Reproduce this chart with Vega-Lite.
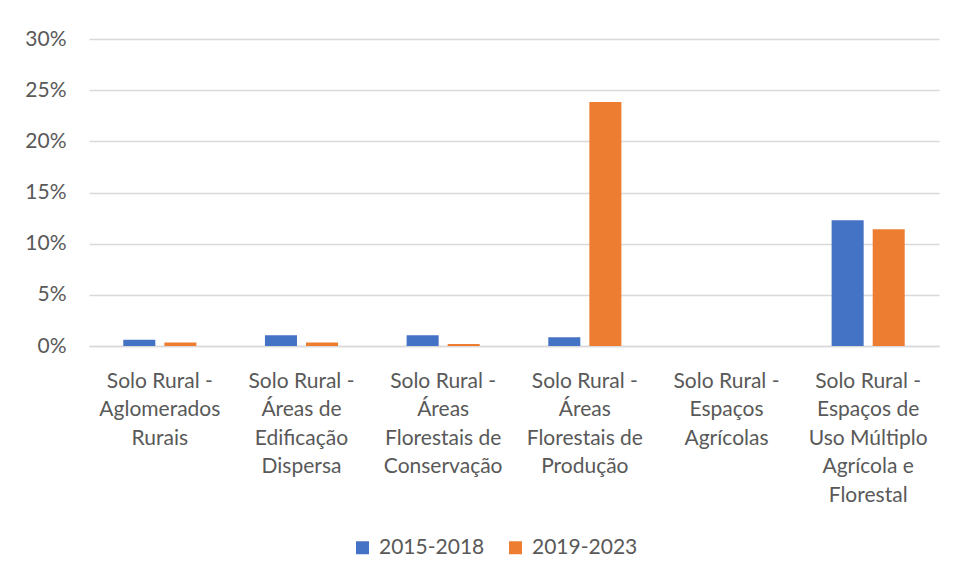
{
  "$schema": "https://vega.github.io/schema/vega-lite/v6.json",
  "width": 850,
  "height": 307,
  "autosize": "none",
  "padding": {"left": 89, "top": 39, "right": 17, "bottom": 235},
  "background": "white",
  "data": {
    "values": [
      {"categoria": "Solo Rural - Aglomerados Rurais", "periodo": "2015-2018", "valor": 0.006},
      {"categoria": "Solo Rural - Aglomerados Rurais", "periodo": "2019-2023", "valor": 0.0035},
      {"categoria": "Solo Rural - Áreas de Edificação Dispersa", "periodo": "2015-2018", "valor": 0.0105},
      {"categoria": "Solo Rural - Áreas de Edificação Dispersa", "periodo": "2019-2023", "valor": 0.0035},
      {"categoria": "Solo Rural - Áreas Florestais de Conservação", "periodo": "2015-2018", "valor": 0.0105},
      {"categoria": "Solo Rural - Áreas Florestais de Conservação", "periodo": "2019-2023", "valor": 0.002},
      {"categoria": "Solo Rural - Áreas Florestais de Produção", "periodo": "2015-2018", "valor": 0.0085},
      {"categoria": "Solo Rural - Áreas Florestais de Produção", "periodo": "2019-2023", "valor": 0.2385},
      {"categoria": "Solo Rural - Espaços Agrícolas", "periodo": "2015-2018", "valor": 0},
      {"categoria": "Solo Rural - Espaços Agrícolas", "periodo": "2019-2023", "valor": 0},
      {"categoria": "Solo Rural - Espaços de Uso Múltiplo Agrícola e Florestal", "periodo": "2015-2018", "valor": 0.123},
      {"categoria": "Solo Rural - Espaços de Uso Múltiplo Agrícola e Florestal", "periodo": "2019-2023", "valor": 0.114}
    ]
  },
  "mark": {"type": "bar"},
  "encoding": {
    "x": {
      "field": "categoria",
      "type": "nominal",
      "sort": null,
      "scale": {"paddingInner": 0, "paddingOuter": 0},
      "axis": {
        "title": null,
        "labelAngle": 0,
        "labelFont": "Lato",
        "labelFontSize": 21,
        "labelColor": "#595959",
        "labelLineHeight": 28.5,
        "labelPadding": 24,
        "labelBaseline": "top",
        "labelLimit": 0,
        "ticks": false,
        "domainColor": "#D9D9D9",
        "domainWidth": 1.5,
        "grid": false,
        "labelExpr": "{'Solo Rural - Aglomerados Rurais': ['Solo Rural -', 'Aglomerados', 'Rurais'], 'Solo Rural - Áreas de Edificação Dispersa': ['Solo Rural -', 'Áreas de', 'Edificação', 'Dispersa'], 'Solo Rural - Áreas Florestais de Conservação': ['Solo Rural -', 'Áreas', 'Florestais de', 'Conservação'], 'Solo Rural - Áreas Florestais de Produção': ['Solo Rural -', 'Áreas', 'Florestais de', 'Produção'], 'Solo Rural - Espaços Agrícolas': ['Solo Rural -', 'Espaços', 'Agrícolas'], 'Solo Rural - Espaços de Uso Múltiplo Agrícola e Florestal': ['Solo Rural -', 'Espaços de', 'Uso Múltiplo', 'Agrícola e', 'Florestal']}[datum.value]"
      }
    },
    "xOffset": {
      "field": "periodo",
      "type": "nominal",
      "scale": {"paddingInner": 0.22, "paddingOuter": 0.835}
    },
    "y": {
      "field": "valor",
      "type": "quantitative",
      "scale": {"domain": [0, 0.3]},
      "axis": {
        "title": null,
        "format": ".0%",
        "values": [0, 0.05, 0.1, 0.15, 0.2, 0.25, 0.3],
        "labelFont": "Lato",
        "labelFontSize": 21,
        "labelColor": "#595959",
        "labelPadding": 23,
        "ticks": false,
        "domain": false,
        "gridColor": "#D9D9D9",
        "gridWidth": 1.5
      }
    },
    "color": {
      "field": "periodo",
      "type": "nominal",
      "scale": {"domain": ["2015-2018", "2019-2023"], "range": ["#4472C4", "#ED7D31"]},
      "legend": {
        "title": null,
        "orient": "none",
        "legendX": 263,
        "legendY": 498,
        "direction": "horizontal",
        "symbolType": "square",
        "symbolSize": 169,
        "symbolStrokeWidth": 0,
        "labelFont": "Lato",
        "labelFontSize": 21,
        "labelColor": "#595959",
        "labelOffset": 6,
        "columnPadding": 20
      }
    }
  },
  "config": {
    "view": {"stroke": null}
  }
}
